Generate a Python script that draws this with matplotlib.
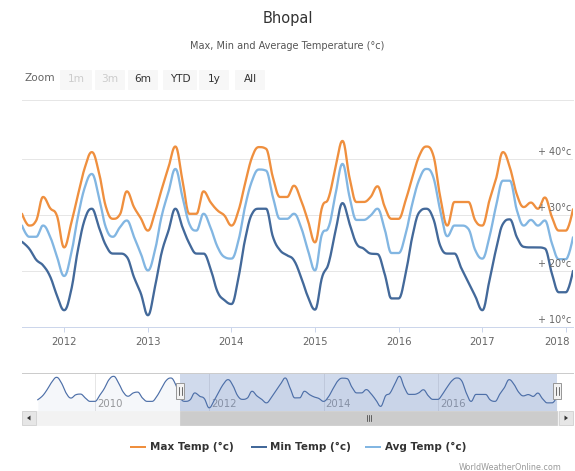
import datetime as dt
import numpy as np
import matplotlib
matplotlib.use("Agg")
import matplotlib.pyplot as plt
import matplotlib.dates as mdates
import matplotlib.transforms as mtransforms
from matplotlib.patches import Rectangle, FancyBboxPatch, Polygon
from matplotlib.lines import Line2D

# ---------------- data ----------------
title = "Bhopal"
subtitle = "Max, Min and Average Temperature (°c)"
series_names = ["Max Temp (°c)", "Min Temp (°c)", "Avg Temp (°c)"]
series_colors = ["#EF8F3E", "#43699A", "#82B6E2"]
zoom_buttons = ["1m", "3m", "6m", "YTD", "1y", "All"]
zoom_disabled = [True, True, False, False, False, False]
y_ticks = [10, 20, 30, 40]
y_tick_labels = ["+ 10°c", "+ 20°c", "+ 30°c", "+ 40°c"]
x_years = [2012, 2013, 2014, 2015, 2016, 2017, 2018]
nav_years = [2010, 2012, 2014, 2016]
credits = "WorldWeatherOnline.com"

# monthly values (first of month)
max_start = (2009, 1)
max_temp = [
    29.1, 31.5, 35.1, 39.8, 42.6, 39.2, 33.1, 30.1, 32.1, 32.5, 30.1, 28.1,   # 2009
    28.1, 31.8, 35.7, 41.2, 43.2, 39.2, 33.7, 31.2, 33.1, 33.7, 30.1, 28.1,   # 2010
    28.1, 31.2, 35.7, 40.6, 42.2, 38.2, 30.2, 28.1, 29.0, 33.2, 31.2, 29.8,   # 2011
    24.2, 28.5, 33.5, 38.5, 41.2, 37.6, 31.5, 29.3, 30.1, 34.2, 31.4, 29.4,   # 2012
    27.2, 30.4, 34.4, 38.5, 42.2, 36.2, 30.2, 30.2, 34.2, 32.3, 30.8, 29.9,   # 2013
    28.1, 30.8, 35.5, 40.3, 42.1, 41.8, 36.7, 33.2, 33.2, 35.2, 32.6, 29.0,   # 2014
    25.1, 31.4, 33.0, 38.5, 43.2, 36.6, 32.3, 32.3, 33.2, 35.1, 31.5, 29.3,   # 2015
    29.3, 32.6, 36.7, 40.6, 42.2, 40.6, 33.2, 28.1, 32.3, 32.3, 32.3, 29.0,   # 2016
    28.1, 32.6, 36.3, 41.2, 38.5, 33.6, 31.4, 32.2, 31.1, 33.1, 29.6, 27.2,   # 2017
    27.2, 31.0,                                                               # 2018
]
main_start = (2011, 7)
min_temp = [
    25.2, 24.0, 22.0, 21.0, 19.0, 15.6,                                       # 2011 H2
    13.0, 16.6, 23.7, 29.3, 31.1, 27.8, 24.6, 23.1, 23.1, 22.5, 18.9, 16.0,   # 2012
    12.1, 17.2, 23.1, 27.2, 31.1, 27.8, 24.9, 23.1, 23.1, 20.5, 16.3, 14.8,   # 2013
    14.1, 18.9, 25.5, 30.2, 31.1, 31.1, 26.1, 23.7, 22.8, 21.9, 18.9, 15.4,   # 2014
    13.1, 18.9, 21.3, 27.2, 32.1, 28.4, 24.9, 24.0, 23.1, 23.0, 19.5, 15.1,   # 2015
    15.1, 19.5, 26.1, 30.5, 31.1, 29.3, 24.5, 23.1, 23.1, 20.5, 18.0, 15.5,   # 2016
    13.0, 18.3, 23.7, 28.4, 29.2, 26.0, 24.3, 24.2, 24.2, 24.0, 19.5, 16.2,   # 2017
    16.2, 20.0,                                                               # 2018
]
avg_temp = [
    28.1, 26.1, 26.1, 28.1, 26.1, 22.5,                                       # 2011 H2
    19.1, 23.1, 29.6, 35.0, 37.3, 33.2, 27.8, 26.1, 27.8, 29.0, 26.1, 23.1,   # 2012
    20.1, 23.7, 29.6, 34.1, 38.2, 33.2, 28.4, 27.2, 30.2, 27.8, 24.3, 22.5,   # 2013
    22.2, 25.5, 31.4, 36.1, 38.1, 37.9, 33.2, 29.3, 29.3, 30.2, 27.8, 23.7,   # 2014
    20.1, 26.6, 27.8, 33.8, 39.1, 33.2, 29.1, 29.1, 29.9, 31.1, 27.5, 23.2,   # 2015
    23.2, 26.6, 32.0, 36.4, 38.2, 36.7, 30.8, 26.2, 28.1, 28.1, 27.5, 23.7,   # 2016
    22.2, 26.1, 31.4, 36.1, 36.1, 30.8, 28.1, 29.1, 28.1, 29.0, 24.9, 22.1,   # 2017
    22.1, 26.0,                                                               # 2018
]


def month_dates(start, n):
    y, m = start
    out = []
    for _ in range(n):
        out.append(dt.datetime(y, m, 1))
        m += 1
        if m > 12:
            m = 1
            y += 1
    return out


def hc_spline(xs, ys, smoothing=1.5, samples=16):
    """Highcharts-style spline through the points (cubic Bezier segments)."""
    xs = np.asarray(xs, float)
    ys = np.asarray(ys, float)
    n = len(xs)
    rc = [None] * n
    outx, outy = [xs[0]], [ys[0]]
    t = np.linspace(0, 1, samples)[1:]
    d = smoothing + 1
    for i in range(1, n):
        px, py = xs[i], ys[i]
        lcx, lcy = px, py
        if i < n - 1:
            lx, ly = xs[i - 1], ys[i - 1]
            nx, ny = xs[i + 1], ys[i + 1]
            lcx = (smoothing * px + lx) / d
            lcy = (smoothing * py + ly) / d
            rcx = (smoothing * px + nx) / d
            rcy = (smoothing * py + ny) / d
            corr = (rcy - lcy) * (rcx - px) / (rcx - lcx) + py - rcy
            lcy += corr
            rcy += corr
            if lcy > ly and lcy > py:
                lcy = max(ly, py); rcy = 2 * py - lcy
            elif lcy < ly and lcy < py:
                lcy = min(ly, py); rcy = 2 * py - lcy
            if rcy > ny and rcy > py:
                rcy = max(ny, py); lcy = 2 * py - rcy
            elif rcy < ny and rcy < py:
                rcy = min(ny, py); lcy = 2 * py - rcy
            rc[i] = (rcx, rcy)
        p0 = (xs[i - 1], ys[i - 1])
        c1 = rc[i - 1] if rc[i - 1] is not None else p0
        c2 = (lcx, lcy)
        p3 = (px, py)
        bx = ((1 - t) ** 3) * p0[0] + 3 * ((1 - t) ** 2) * t * c1[0] + 3 * (1 - t) * t ** 2 * c2[0] + t ** 3 * p3[0]
        by = ((1 - t) ** 3) * p0[1] + 3 * ((1 - t) ** 2) * t * c1[1] + 3 * (1 - t) * t ** 2 * c2[1] + t ** 3 * p3[1]
        outx.extend(bx)
        outy.extend(by)
    return np.array(outx), np.array(outy)


# ---------------- figure ----------------
W, H = 575, 471
plt.rcParams["font.family"] = ["DejaVu Sans"]
fig = plt.figure(figsize=(W / 100, H / 100), dpi=100)
fig.patch.set_facecolor("white")


def fx(x):
    return x / W


def fy(y):
    return 1 - y / H


PX = 0.72  # points per pixel

# titles
fig.text(0.5, fy(18), title, ha="center", va="center", fontsize=10.5, color="#333333")
fig.text(0.5, fy(46), subtitle, ha="center", va="center", fontsize=7.0, color="#555555")

# range selector
fig.text(fx(24), fy(78), "Zoom", ha="left", va="center", fontsize=7.6, color="#666666")
btn_x = [60, 95, 128, 163, 199, 235]
btn_w = [32, 30, 30, 34, 30, 30]
for lab, dis, bx, bw in zip(zoom_buttons, zoom_disabled, btn_x, btn_w):
    fig.patches.append(FancyBboxPatch((fx(bx), fy(90)), bw / W, 20 / H,
                                      boxstyle="round,pad=0,rounding_size=0.002",
                                      transform=fig.transFigure, facecolor="#f7f7f7",
                                      edgecolor="none", zorder=1))
    fig.text(fx(bx + bw / 2), fy(79), lab, ha="center", va="center", fontsize=7.6,
             color="#cccccc" if dis else "#333333")

# main plot
L, R, T, B = 22, 573, 100, 327
ax = fig.add_axes([fx(L), fy(B), (R - L) / W, (B - T) / H])
main_dates = month_dates(main_start, len(min_temp))
max_dates = month_dates(max_start, len(max_temp))
x_main = mdates.date2num(main_dates)
x_max = mdates.date2num(max_dates)
i0 = max_dates.index(main_dates[0])

ax.set_xlim(mdates.date2num(dt.datetime(2011, 7, 1)), mdates.date2num(dt.datetime(2018, 2, 1)))
ax.set_ylim(10, 50.5)
for v in y_ticks[1:]:
    ax.axhline(v, color="#e6e6e6", lw=1 * PX, zorder=0)
for sp in ["left", "right"]:
    ax.spines[sp].set_visible(False)
ax.spines["top"].set_color("#e6e6e6")
ax.spines["top"].set_linewidth(PX)
ax.spines["bottom"].set_color("#ccd6eb")
ax.spines["bottom"].set_linewidth(PX)
ax.set_yticks([])
ax.set_xticks([mdates.date2num(dt.datetime(y, 1, 1)) for y in x_years])
ax.set_xticklabels([str(y) for y in x_years])
ax.tick_params(axis="x", length=5 * PX, width=PX, color="#ccd6eb", labelsize=7.3,
               labelcolor="#666666", pad=3.5)
last = ax.get_xticklabels()[-1]
last.set_horizontalalignment("right")
last.set_transform(last.get_transform() + mtransforms.ScaledTranslation(4 / 100, 0, fig.dpi_scale_trans))

for v, lab in zip(y_ticks, y_tick_labels):
    ax.annotate(lab, xy=(1, v), xycoords=("axes fraction", "data"), xytext=(-1.5, 1.2),
                textcoords="offset points", ha="right", va="bottom", fontsize=6.9,
                color="#666666", zorder=5)

series = [(max_temp[i0:], series_colors[0]), (min_temp, series_colors[1]), (avg_temp, series_colors[2])]
for vals, col in series:
    sx, sy = hc_spline(x_main, vals)
    ax.plot(sx, sy, color=col, lw=2 * PX * 1.15, solid_capstyle="round", zorder=3)

# navigator
NT, NB = 373, 411
nav = fig.add_axes([fx(L), fy(NB), (R - L) / W, (NB - NT) / H])
nav_left = mdates.date2num(dt.datetime(2008, 9, 22))
nav_right = mdates.date2num(dt.datetime(2018, 5, 14))
nav.set_xlim(nav_left, nav_right)
nav.set_ylim(22.3, 45.2)
nav.set_xticks([]); nav.set_yticks([])
for sp in ["left", "right", "bottom"]:
    nav.spines[sp].set_visible(False)
nav.spines["top"].set_color("#cccccc")
nav.spines["top"].set_linewidth(PX)
for y in nav_years:
    xd = mdates.date2num(dt.datetime(y, 1, 1))
    nav.axvline(xd, color="#e6e6e6", lw=PX, zorder=0)
    nav.annotate(str(y), xy=(xd, 0), xycoords=("data", "axes fraction"), xytext=(1.5, 1.5),
                 textcoords="offset points", ha="left", va="bottom", fontsize=7.3,
                 color="#999999", zorder=1)
nx_, ny_ = hc_spline(x_max, max_temp)
nav.fill_between(nx_, ny_, 22.3, color="#4d6fa8", alpha=0.05, lw=0, zorder=2)
nav.plot(nx_, ny_, color="#4d6fa8", lw=0.85, zorder=3)
sel0 = mdates.date2num(dt.datetime(2011, 7, 1))
sel1 = mdates.date2num(dt.datetime(2018, 2, 1))
nav.axvspan(sel0, sel1, color="#6685c2", alpha=0.3, lw=0, zorder=1)

fig.canvas.draw()
hx0 = nav.transData.transform((sel0, 30))[0]
hx1 = nav.transData.transform((sel1, 30))[0]

# handles
for hx in (hx0, hx1):
    fig.patches.append(Rectangle((fx(hx - 4), fy(399)), 8 / W, 16 / H, transform=fig.transFigure,
                                 facecolor="#f2f2f2", edgecolor="#999999", lw=PX, zorder=5))
    for dx in (-1.5, 1.5):
        fig.lines.append(Line2D([fx(hx + dx), fx(hx + dx)], [fy(387), fy(395)],
                                transform=fig.transFigure, color="#333333", lw=0.5, zorder=6))

# scrollbar
ST, SB = 411, 425
fig.patches.append(Rectangle((fx(L), fy(SB)), (R - L) / W, (SB - ST) / H, transform=fig.transFigure,
                             facecolor="#f2f2f2", edgecolor="#f2f2f2", lw=0.5, zorder=1))
fig.patches.append(Rectangle((fx(hx0), fy(SB)), (hx1 - hx0) / W, (SB - ST) / H, transform=fig.transFigure,
                             facecolor="#cccccc", edgecolor="#cccccc", lw=0.5, zorder=2))
cx = (hx0 + hx1) / 2
for dx in (-2, 0, 2):
    fig.lines.append(Line2D([fx(cx + dx), fx(cx + dx)], [fy(415), fy(421)],
                            transform=fig.transFigure, color="#333333", lw=0.5, zorder=3))
for bx0, direction in ((L, -1), (R - 14, 1)):
    fig.patches.append(Rectangle((fx(bx0), fy(SB)), 14 / W, 14 / H, transform=fig.transFigure,
                                 facecolor="#e6e6e6", edgecolor="#cccccc", lw=0.5, zorder=3))
    c = bx0 + 7
    if direction < 0:
        pts = [(c - 2, 418), (c + 1.5, 415.5), (c + 1.5, 420.5)]
    else:
        pts = [(c + 2, 418), (c - 1.5, 415.5), (c - 1.5, 420.5)]
    fig.patches.append(Polygon([(fx(a), fy(b)) for a, b in pts], closed=True, transform=fig.transFigure,
                               facecolor="#333333", edgecolor="none", zorder=4))

# legend
leg_y = 446.5
leg_line_x = [(131, 145), (252, 266), (366, 380)]
leg_text_x = [150, 270, 385]
for name, col, (a, b), tx in zip(series_names, series_colors, leg_line_x, leg_text_x):
    fig.lines.append(Line2D([fx(a), fx(b)], [fy(leg_y), fy(leg_y)], transform=fig.transFigure,
                            color=col, lw=2 * PX))
    fig.text(fx(tx), fy(leg_y), name, ha="left", va="center", fontsize=7.5, fontweight="bold",
             color="#333333")

# credits
fig.text(fx(562), fy(467), credits, ha="right", va="center", fontsize=5.8, color="#999999")

fig.savefig("out.png", dpi=100, facecolor="white")
